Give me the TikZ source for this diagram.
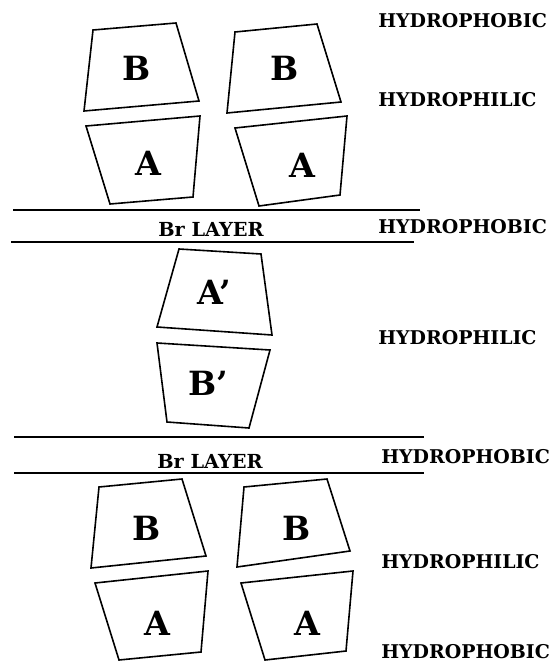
\documentclass[tikz,border=0pt]{standalone}
\usepackage{fontspec}
\setmainfont{DejaVu Serif}
\begin{document}
\begin{tikzpicture}[x=0.75pt,y=-0.75pt,
  box/.style={draw, line width=1.2pt, line join=miter},
  side/.style={font=\fontsize{14.2}{16}\selectfont\bfseries, anchor=west, inner sep=0pt},
  layertxt/.style={font=\fontsize{14.5}{16}\selectfont\bfseries, inner sep=0pt},
  big/.style={font=\fontsize{25}{29}\selectfont\bfseries, inner sep=0pt},
  layer/.style={line width=1.2pt}]
\useasboundingbox (0,0) rectangle (554,667);
% top row
\draw[box] (93,30) -- (176,23) -- (199,101) -- (84,111) -- cycle;
\node[big] (b1) at (137,68) {B};
\draw[box] (86,126) -- (200,116) -- (193,197) -- (110,204) -- cycle;
\node[big] (a1) at (148,163) {A};
\draw[box] (235,32) -- (317,24) -- (341,102) -- (227,113) -- cycle;
\node[big] (b2) at (285,68) {B};
\draw[box] (235,128) -- (347,116) -- (340,195) -- (259,206) -- cycle;
\node[big] (a2) at (302,165) {A};
% first Br layer
\coordinate (l1a) at (13,210); \coordinate (l1b) at (420,210);
\coordinate (l2a) at (11,242); \coordinate (l2b) at (414,242);
\draw[layer] (l1a) -- (l1b);
\draw[layer] (l2a) -- (l2b);
\node[layertxt] (br1) at (211,229) {Br LAYER};
% middle
\draw[box] (179,249) -- (261,254) -- (272,335) -- (157,327) -- cycle;
\node[big] (ap) at (214,292) {A’};
\draw[box] (157,343) -- (270,350) -- (249,428) -- (167,422) -- cycle;
\node[big] (bp) at (208,383) {B’};
% second Br layer
\coordinate (l3a) at (14,437); \coordinate (l3b) at (424,437);
\coordinate (l4a) at (14,473); \coordinate (l4b) at (424,473);
\draw[layer] (l3a) -- (l3b);
\draw[layer] (l4a) -- (l4b);
\node[layertxt] (br2) at (210,461) {Br LAYER};
% bottom row
\draw[box] (99,487) -- (182,479) -- (206,556) -- (91,568) -- cycle;
\node[big] (b3) at (147,528) {B};
\draw[box] (95,583) -- (208,571) -- (201,652) -- (119,660) -- cycle;
\node[big] (a3) at (157,623) {A};
\draw[box] (244,487) -- (327,479) -- (350,551) -- (237,567) -- cycle;
\node[big] (b4) at (297,528) {B};
\draw[box] (241,583) -- (353,571) -- (346,651) -- (265,660) -- cycle;
\node[big] (a4) at (307,623) {A};
% side labels
\node[side] (s1) at (378,21) {HYDROPHOBIC};
\node[side] (s2) at (378,100) {HYDROPHILIC};
\node[side] (s3) at (378,227) {HYDROPHOBIC};
\node[side] (s4) at (378,338) {HYDROPHILIC};
\node[side] (s5) at (381,457) {HYDROPHOBIC};
\node[side] (s6) at (381,562) {HYDROPHILIC};
\node[side] (s7) at (381,652) {HYDROPHOBIC};
\end{tikzpicture}
\end{document}
